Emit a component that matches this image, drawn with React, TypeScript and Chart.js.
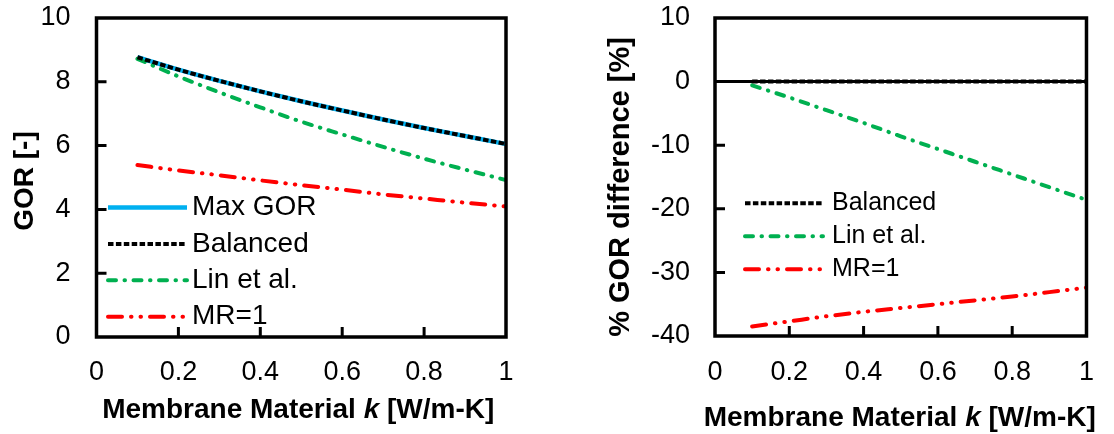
import React, { useEffect, useRef } from 'react';
import { Chart, registerables } from 'chart.js';

Chart.register(...registerables);

// ---------- data ----------
const kValues = [0.1, 0.2, 0.3, 0.4, 0.5, 0.6, 0.7, 0.8, 0.9, 1.0];

const maxGor = [8.77, 8.38, 8.03, 7.7, 7.39, 7.1, 6.82, 6.55, 6.3, 6.05];
const balancedGor = [8.77, 8.38, 8.03, 7.7, 7.39, 7.1, 6.82, 6.55, 6.3, 6.05];
const linGor = [8.72, 8.17, 7.67, 7.2, 6.75, 6.35, 5.96, 5.59, 5.25, 4.92];
const mr1Gor = [5.39, 5.22, 5.07, 4.91, 4.76, 4.62, 4.47, 4.34, 4.21, 4.09];

const balancedDiff = [0, 0, 0, 0, 0, 0, 0, 0, 0, 0];
const linDiff = [-0.6, -2.5, -4.5, -6.5, -8.6, -10.6, -12.6, -14.6, -16.6, -18.6];
const mr1Diff = [-38.5, -37.7, -36.9, -36.2, -35.6, -35.0, -34.4, -33.8, -33.1, -32.4];

const xTicks = [0, 0.2, 0.4, 0.6, 0.8, 1];
const xTickLabels = ['0', '0.2', '0.4', '0.6', '0.8', '1'];
const leftYTicks = [0, 2, 4, 6, 8, 10];
const leftYTickLabels = ['0', '2', '4', '6', '8', '10'];
const rightYTicks = [-40, -30, -20, -10, 0, 10];
const rightYTickLabels = ['-40', '-30', '-20', '-10', '0', '10'];

// x title split so the symbol k can be italic
const xTitleParts = ['Membrane Material ', 'k', ' [W/m-K]'];
const leftYTitle = 'GOR [-]';
const rightYTitle = '% GOR difference [%]';

const seriesLabels = ['Max GOR', 'Balanced', 'Lin et al.', 'MR=1'];

// ---------- styles ----------
const FONT = "'Liberation Sans', Arial, sans-serif";
const BLUE = '#00B0F0';
const BLACK = '#000000';
const GREEN = '#00B050';
const RED = '#FF0000';

const toPts = (ys: number[]) => kValues.map((x, i) => ({ x, y: ys[i] }));

const styleMax = { borderColor: BLUE, borderWidth: 4.5, borderDash: [], borderCapStyle: 'butt' };
const styleBal = { borderColor: BLACK, borderWidth: 4, borderDash: [5.5, 2.4], borderCapStyle: 'butt' };
const styleLin = { borderColor: GREEN, borderWidth: 4, borderDash: [8, 8.5, 0.5, 8.5], borderCapStyle: 'round' };
const styleMr = { borderColor: RED, borderWidth: 4, borderDash: [14, 9, 0.5, 9, 0.5, 9], borderCapStyle: 'round' };

// Frame, inward ticks, axis titles (italic k) and in-plot legend
const framePlugin = {
  id: 'excelFrame',
  afterDatasetsDraw(chart: any) {
    const { ctx, chartArea: a, scales } = chart;
    const opts = chart.options.plugins.excelFrame || {};
    ctx.save();
    ctx.strokeStyle = '#000';
    ctx.setLineDash([]);
    ctx.lineCap = 'butt';
    ctx.lineWidth = 3;
    ctx.beginPath();
    for (const t of scales.x.ticks) {
      const px = scales.x.getPixelForValue(t.value);
      if (px > a.left + 3 && px < a.right - 3) {
        ctx.moveTo(px, a.bottom);
        ctx.lineTo(px, a.bottom - 10);
      }
    }
    for (const t of scales.y.ticks) {
      const py = scales.y.getPixelForValue(t.value);
      if (py > a.top + 3 && py < a.bottom - 3) {
        ctx.moveTo(a.left, py);
        ctx.lineTo(a.left + 10, py);
      }
    }
    ctx.stroke();
    ctx.lineWidth = 3.5;
    ctx.strokeRect(a.left, a.top, a.right - a.left, a.bottom - a.top);

    // x-axis title
    const fonts = [
      `bold 28px ${FONT}`,
      `italic bold 28px ${FONT}`,
      `bold 28px ${FONT}`,
    ];
    let total = 0;
    const widths = xTitleParts.map((s, i) => {
      ctx.font = fonts[i];
      const w = ctx.measureText(s).width;
      total += w;
      return w;
    });
    let tx = (a.left + a.right) / 2 - total / 2 + (opts.xTitleShift || 0);
    ctx.fillStyle = '#000';
    ctx.textBaseline = 'middle';
    ctx.textAlign = 'left';
    xTitleParts.forEach((s, i) => {
      ctx.font = fonts[i];
      ctx.fillText(s, tx, opts.xTitleY);
      tx += widths[i];
    });

    // y-axis title (rotated)
    const yt = opts.yTitle;
    if (yt) {
      ctx.save();
      ctx.translate(yt.x, yt.y);
      ctx.rotate(-Math.PI / 2);
      ctx.font = `bold ${yt.size}px ${FONT}`;
      ctx.textAlign = 'center';
      ctx.textBaseline = 'middle';
      ctx.fillStyle = '#000';
      ctx.fillText(yt.text, 0, 0);
      ctx.restore();
    }

    const lg = opts.legend;
    if (lg) {
      chart.data.datasets.forEach((ds: any, i: number) => {
        const y = lg.y0 + i * lg.step;
        ctx.beginPath();
        ctx.strokeStyle = ds.borderColor;
        ctx.lineWidth = ds.borderWidth;
        ctx.lineCap = ds.borderCapStyle || 'butt';
        ctx.setLineDash(ds.borderDash || []);
        ctx.moveTo(lg.x0, y);
        ctx.lineTo(lg.x1, y);
        ctx.stroke();
        ctx.setLineDash([]);
        ctx.fillStyle = '#000';
        ctx.font = `${lg.size}px ${FONT}`;
        ctx.textBaseline = 'middle';
        ctx.textAlign = 'left';
        ctx.fillText(ds.label, lg.textX, y);
      });
    }
    ctx.restore();
  },
};

function makeConfig(p: any) {
  return {
    type: 'line',
    data: { datasets: p.datasets },
    options: {
      responsive: false,
      maintainAspectRatio: false,
      animation: false,
      devicePixelRatio: 1,
      layout: { padding: { left: 0, top: p.top, right: p.right, bottom: 0 } },
      elements: { point: { radius: 0 }, line: { tension: 0, cubicInterpolationMode: 'monotone' } },
      plugins: {
        legend: { display: false },
        tooltip: { enabled: false },
        excelFrame: { legend: p.legend, xTitleY: p.xTitleY, xTitleShift: p.xTitleShift, yTitle: p.yTitle },
      },
      scales: {
        x: {
          type: 'linear',
          min: 0,
          max: 1,
          afterBuildTicks: (s: any) => { s.ticks = xTicks.map((v) => ({ value: v })); },
          afterFit: (s: any) => { s.height = p.xHeight; },
          grid: { display: false, drawTicks: false },
          border: { display: false },
          ticks: {
            padding: p.xTickPad,
            maxRotation: 0,
            autoSkip: false,
            color: '#000',
            font: { family: FONT, size: 27 },
            callback: (v: number) => xTickLabels[xTicks.indexOf(v)],
          },
          title: { display: false },
        },
        y: {
          type: 'linear',
          min: p.yTicks[0],
          max: p.yTicks[p.yTicks.length - 1],
          afterBuildTicks: (s: any) => { s.ticks = p.yTicks.map((v: number) => ({ value: v })); },
          afterFit: (s: any) => {
            s.width = p.yWidth;
            s.paddingTop = 0;
            s.paddingBottom = 0;
          },
          grid: {
            display: true,
            drawTicks: false,
            lineWidth: 3,
            color: (c: any) => (p.zeroLine && c.tick && c.tick.value === 0 ? '#000' : 'rgba(0,0,0,0)'),
          },
          border: { display: false },
          ticks: {
            padding: p.yTickPad,
            autoSkip: false,
            color: '#000',
            font: { family: FONT, size: 27 },
            callback: (v: number) => p.yTickLabels[p.yTicks.indexOf(v)],
          },
          title: { display: false },
        },
      },
    },
    plugins: [framePlugin],
  };
}

function ChartCanvas({ config, width, height, left }: any) {
  const ref = useRef<HTMLCanvasElement | null>(null);
  useEffect(() => {
    if (!ref.current) return;
    const chart = new Chart(ref.current, config);
    return () => chart.destroy();
  }, []);
  return (
    <div style={{ position: 'absolute', left, top: 0, width, height }}>
      <canvas ref={ref} width={width} height={height} style={{ width, height, display: 'block' }} />
    </div>
  );
}

export default function App() {
  const leftConfig = makeConfig({
    datasets: [
      { label: seriesLabels[0], data: toPts(maxGor), order: 3, ...styleMax },
      { label: seriesLabels[1], data: toPts(balancedGor), order: 0, ...styleBal },
      { label: seriesLabels[2], data: toPts(linGor), order: 1, ...styleLin },
      { label: seriesLabels[3], data: toPts(mr1Gor), order: 2, ...styleMr },
    ],
    top: 18,
    right: 545 - 506,
    xHeight: 434 - 337,
    yWidth: 96.5,
    xTickPad: 19,
    yTickPad: 26,
    xTitleY: 410,
    xTitleShift: -3,
    yTitle: { text: leftYTitle, x: 25, y: 181, size: 28 },
    yTicks: leftYTicks,
    yTickLabels: leftYTickLabels,
    zeroLine: false,
    legend: { x0: 108, x1: 187, textX: 192, y0: 207.5, step: 36.4, size: 28 },
  });
  const rightConfig = makeConfig({
    datasets: [
      { label: seriesLabels[1], data: toPts(balancedDiff), order: 0, ...styleBal },
      { label: seriesLabels[2], data: toPts(linDiff), order: 1, ...styleLin },
      { label: seriesLabels[3], data: toPts(mr1Diff), order: 2, ...styleMr },
    ],
    top: 18,
    right: 554 - 547,
    xHeight: 434 - 336,
    yWidth: 155,
    xTickPad: 20,
    yTickPad: 25,
    xTitleY: 418,
    xTitleShift: -1,
    yTitle: { text: rightYTitle, x: 61, y: 187, size: 29 },
    yTicks: rightYTicks,
    yTickLabels: rightYTickLabels,
    zeroLine: true,
    legend: { x0: 185, x1: 263, textX: 272, y0: 203.3, step: 33, size: 25 },
  });
  return (
    <div style={{ position: 'fixed', left: 0, top: 0, width: 1114, height: 434, background: '#fff', overflow: 'hidden' }}>
      <ChartCanvas config={leftConfig} width={545} height={434} left={0} />
      <ChartCanvas config={rightConfig} width={554} height={434} left={560} />
    </div>
  );
}
